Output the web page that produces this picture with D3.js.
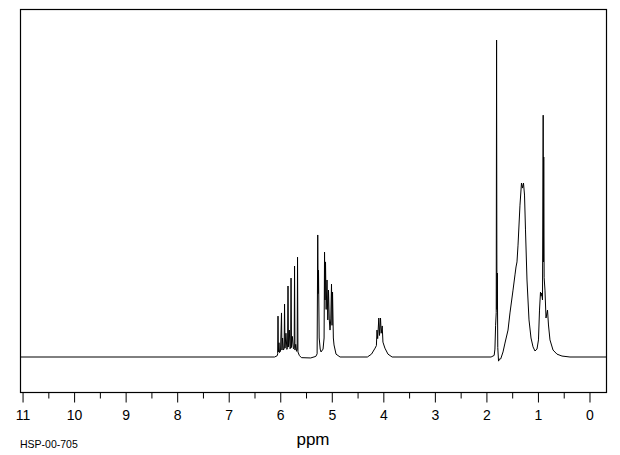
<!DOCTYPE html>
<html>
<head>
<meta charset="utf-8">
<script src="https://cdn.jsdelivr.net/npm/d3@7"></script>
<style>
  body { margin: 0; background: #fff; }
  svg { display: block; }
  .tick text { font-family: "Liberation Sans", sans-serif; font-size: 14px; fill: #000; }
  .tick line { stroke: #000; }
</style>
</head>
<body>
<svg id="spectrum" width="620" height="455"></svg>
<script>
// chart values: [ppm, intensity], tallest line = 100
var vinylGroup = [
  [6.10, 0], [6.05, 0.4], [6.040, 1.0], [6.034, 12.9], [6.028, 1.6], [6.015, 4.5], [6.005, 1.4],
  [5.985, 1.8], [5.966, 13.9], [5.958, 2.2], [5.945, 6.0], [5.930, 2.2], [5.915, 2.6],
  [5.907, 16.7], [5.898, 2.8], [5.880, 7.5], [5.862, 2.4], [5.848, 3.0], [5.840, 22.4],
  [5.832, 3.2], [5.815, 8.5], [5.800, 2.6], [5.788, 3.2], [5.781, 24.9], [5.772, 3.0],
  [5.755, 6.5], [5.735, 2.6], [5.720, 3.0], [5.713, 28.7], [5.705, 2.2], [5.690, 4.0],
  [5.675, 1.8], [5.662, 2.5], [5.655, 31.5], [5.647, 1.6], [5.62, 0.5], [5.58, -0.2],
  [5.40, -0.3], [5.30, 0.2]
]
var terminalGroup = [
  [5.275, 1.0], [5.263, 38.5], [5.256, 20], [5.248, 27.4], [5.235, 6], [5.215, 2.5],
  [5.199, 1.6], [5.160, 2.5], [5.140, 6], [5.131, 33.1], [5.122, 18], [5.112, 30.0],
  [5.100, 15], [5.083, 24.3], [5.068, 11.7], [5.054, 21.1], [5.040, 12], [5.025, 8.5],
  [5.010, 12], [4.996, 23.0], [4.986, 10], [4.976, 20.5], [4.960, 6], [4.947, 3.8],
  [4.908, 0.9], [4.83, 0]
]
var ochGroup = [
  [4.30, 0], [4.22, 0.9], [4.15, 2.8], [4.125, 3.6], [4.113, 8.5], [4.100, 5.8],
  [4.078, 12.3], [4.065, 6.8], [4.045, 12.3], [4.032, 7.5], [4.012, 9.8], [3.998, 4.7],
  [3.96, 2.8], [3.90, 0.9], [3.82, 0]
]
var sharpGroup = [
  [1.90, 0], [1.84, 0.5], [1.825, 2.5], [1.812, 10], [1.800, 14], [1.793, 100],
  [1.786, 15], [1.779, 26.5], [1.770, 3], [1.755, -1.3], [1.735, -0.6]
]
var alkylGroup = [
  [1.713, -0.6], [1.668, 1.6], [1.630, 4.4], [1.571, 8.5], [1.533, 13.9], [1.474, 21.1],
  [1.436, 25.9], [1.416, 28.4], [1.397, 30.0], [1.377, 35.3], [1.339, 47.9], [1.319, 52.7],
  [1.310, 54.9], [1.290, 53.3], [1.271, 54.9], [1.251, 51.1], [1.232, 40.1], [1.203, 24.3],
  [1.164, 11.7], [1.125, 6.0], [1.086, 3.2], [1.048, 1.9], [1.009, 2.5]
]
var methylGroup = [
  [0.980, 5.4], [0.960, 14.8], [0.941, 20.5], [0.931, 19.2], [0.918, 20.2], [0.902, 18],
  [0.889, 76.3], [0.884, 30], [0.878, 63.1], [0.870, 25], [0.854, 21.1], [0.834, 12.3],
  [0.805, 14.8], [0.786, 10.1], [0.757, 5.4], [0.698, 2.2], [0.621, 0.9], [0.524, 0.3],
  [0.369, 0]
]
var ppmRange = [11.04, -0.33]
var intensityRange = [-11.04, 109.8]
var majorTicks = [11, 10, 9, 8, 7, 6, 5, 4, 3, 2, 1, 0]
var minorTicks = [10.5, 9.5, 8.5, 7.5, 6.5, 5.5, 4.5, 3.5, 2.5, 1.5, 0.5]
var axisTitle = 'ppm'
var sampleCode = 'HSP-00-705'

var trace = [[ppmRange[0], 0]]
  .concat(vinylGroup, terminalGroup, ochGroup, sharpGroup, alkylGroup, methylGroup)
  .concat([[ppmRange[1], 0]])

// plot box (window.top is read-only, so no bare "top" here)
var boxLeft = 20, boxRight = 606, boxTop = 9, boxBottom = 392

var svg = d3.select('#spectrum')

var xScale = d3.scaleLinear().domain(ppmRange).range([boxLeft, boxRight])
var yScale = d3.scaleLinear().domain(intensityRange).range([boxBottom, boxTop])

// frame
svg.append('rect')
  .attr('x', boxLeft + 0.5)
  .attr('y', boxTop + 0.5)
  .attr('width', boxRight - boxLeft)
  .attr('height', boxBottom - boxTop)
  .attr('fill', 'none')
  .attr('stroke', '#000')
  .attr('stroke-width', 1.2)

// spectrum trace
var line = d3.line()
  .x((d) => xScale(d[0]))
  .y((d) => yScale(d[1]))

svg.append('path')
  .datum(trace)
  .attr('d', line)
  .attr('fill', 'none')
  .attr('stroke', '#000')
  .attr('stroke-width', 1)

// axes
var xAxis = svg.append('g')
  .attr('transform', `translate(0.5, ${boxBottom + 0.5})`)
  .call(d3.axisBottom(xScale).tickValues(majorTicks).tickSize(10).tickPadding(8).tickFormat(d3.format('d')))
xAxis.select('.domain').remove()

var minorAxis = svg.append('g')
  .attr('transform', `translate(0.5, ${boxBottom + 0.5})`)
  .call(d3.axisBottom(xScale).tickValues(minorTicks).tickSize(6).tickFormat(''))
minorAxis.select('.domain').remove()

svg.append('text')
  .attr('x', 313)
  .attr('y', 445)
  .attr('text-anchor', 'middle')
  .attr('font-family', 'Liberation Sans, sans-serif')
  .attr('font-size', 17)
  .text(axisTitle)

svg.append('text')
  .attr('x', 20)
  .attr('y', 448)
  .attr('font-family', 'Liberation Sans, sans-serif')
  .attr('font-size', 10.5)
  .text(sampleCode)
</script>
</body>
</html>
